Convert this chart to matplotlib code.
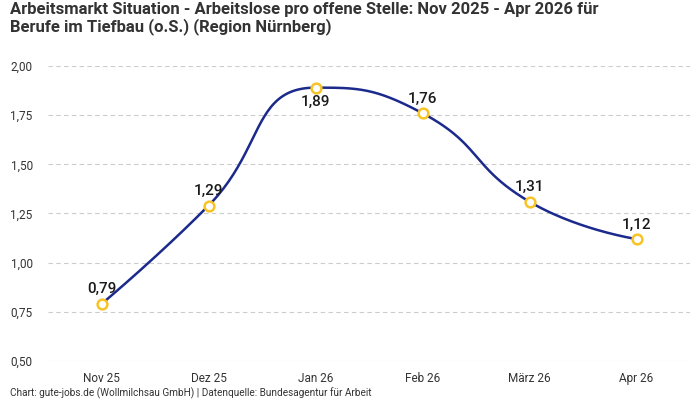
import numpy as np
import matplotlib
matplotlib.use("Agg")
import matplotlib.pyplot as plt

plt.rcParams['font.family'] = ['Roboto', 'DejaVu Sans']

# Werte aus dem Chart
months = ["Nov 25", "Dez 25", "Jan 26", "Feb 26", "März 26", "Apr 26"]
values = [0.79, 1.29, 1.89, 1.76, 1.31, 1.12]
label_below = [False, False, True, False, False, False]
y_ticks = [0.50, 0.75, 1.00, 1.25, 1.50, 1.75, 2.00]

line_color = "#1b2a8c"
marker_edge = "#f7c325"


def smooth_curve(y, smooth=0.5, sx=107.0, sy=196.7, n=50):
    # Bezier-Glaettung mit geklemmten Kontrollpunkten (wie bei ECharts),
    # gerechnet in Pixel-Einheiten, zurueck in Datenwerte
    px = np.arange(len(y), dtype=float) * sx
    py = np.asarray(y, dtype=float) * sy
    segs = []
    cp0 = (px[0], py[0])
    for k in range(1, len(px)):
        x, yy = px[k], py[k]
        xp, yp = px[k - 1], py[k - 1]
        if k == len(px) - 1:
            cp1 = (x, yy)
            nxt = None
        else:
            xn, yn = px[k + 1], py[k + 1]
            vx, vy = xn - xp, yn - yp
            lp = np.hypot(x - xp, yy - yp)
            ln = np.hypot(xn - x, yn - yy)
            r = ln / (ln + lp)
            ncx = x + vx * smooth * r
            ncy = yy + vy * smooth * r
            ncx = max(min(ncx, max(xn, x)), min(xn, x))
            ncy = max(min(ncy, max(yn, yy)), min(yn, yy))
            vx, vy = ncx - x, ncy - yy
            c1x = x - vx * lp / ln
            c1y = yy - vy * lp / ln
            c1x = max(min(c1x, max(xp, x)), min(xp, x))
            c1y = max(min(c1y, max(yp, yy)), min(yp, yy))
            cp1 = (c1x, c1y)
            vx, vy = x - c1x, yy - c1y
            nxt = (x + vx * ln / lp, yy + vy * ln / lp)
        t = np.linspace(0, 1, n)[:, None]
        p0 = np.array([xp, yp]); p3 = np.array([x, yy])
        b = ((1 - t) ** 3 * p0 + 3 * (1 - t) ** 2 * t * np.array(cp0)
             + 3 * (1 - t) * t ** 2 * np.array(cp1) + t ** 3 * p3)
        segs.append(b)
        cp0 = nxt
    pts = np.vstack(segs)
    return pts[:, 0] / sx, pts[:, 1] / sy


fig = plt.figure(figsize=(7, 4), dpi=100)
ax = fig.add_axes([48 / 700, 1 - 361 / 400, 642 / 700, 295 / 400])

xs, ys = smooth_curve(values)
ax.plot(xs, ys, color=line_color, lw=1.8, zorder=3)
ax.plot(range(len(values)), values, "o", ms=7, mfc="white", mec=marker_edge,
        mew=1.8, zorder=4)

for i, v in enumerate(values):
    txt = f"{v:.2f}".replace(".", ",")
    off = -10 if label_below[i] else 10.5
    ax.annotate(txt, (i, v), xytext=(0, off), textcoords="offset points",
                ha="center", va="center", fontsize=11, fontweight="medium",
                color="#1a1a1a", zorder=5)

ax.set_xlim(-0.5, len(months) - 0.5)
ax.set_ylim(0.5, 2.0)
ax.set_yticks(y_ticks)
ax.set_yticklabels([f"{t:.2f}".replace(".", ",") for t in y_ticks])
ax.set_xticks(range(len(months)))
ax.set_xticklabels(months)
ax.tick_params(axis="both", length=0, labelsize=8.5, colors="#333333")
ax.tick_params(axis="x", pad=8)
ax.tick_params(axis="y", pad=11)
ax.grid(axis="y", color="#cccccc", ls=(0, (4, 3)), lw=0.8)
ax.set_axisbelow(True)
for s in ax.spines.values():
    s.set_visible(False)

fig.text(10 / 700, 1 - 2 / 400,
         "Arbeitsmarkt Situation - Arbeitslose pro offene Stelle: Nov 2025 - Apr 2026 für\n"
         "Berufe im Tiefbau (o.S.) (Region Nürnberg)",
         ha="left", va="top", fontsize=12, fontweight="bold", color="#333333",
         linespacing=1.1)
fig.text(10 / 700, 1 - 393 / 400,
         "Chart: gute-jobs.de (Wollmilchsau GmbH) | Datenquelle: Bundesagentur für Arbeit",
         ha="left", va="center", fontsize=7.2, color="#333333")

fig.savefig("out.png", dpi=100)
